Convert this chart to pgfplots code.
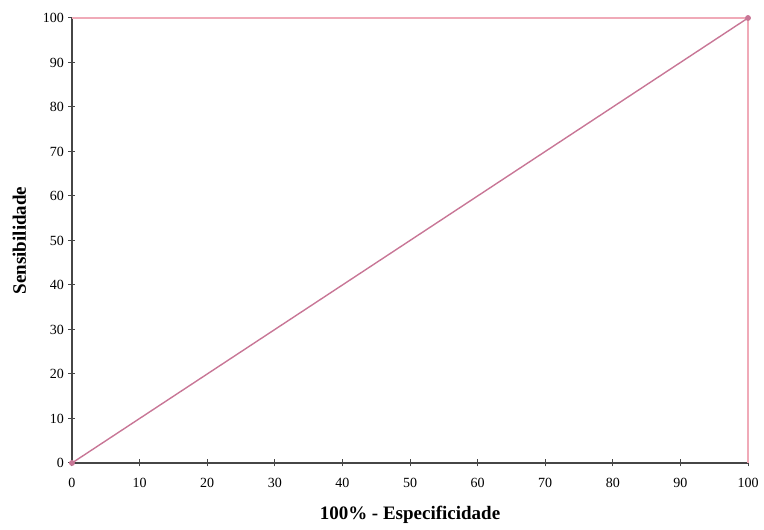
\documentclass[border=0pt]{standalone}
\usepackage{pgfplots}
\pgfplotsset{compat=1.18}
\usepackage{fontspec}
\setmainfont{Liberation Serif}
\definecolor{diag}{RGB}{200,118,150}
\definecolor{frame}{RGB}{240,170,184}
\definecolor{axc}{RGB}{70,70,70}
\begin{document}
\begin{tikzpicture}
\path[use as bounding box] (-72pt,-67pt) rectangle (692pt,463pt);
\begin{axis}[
  at={(0,0)}, anchor=south west,
  scale only axis,
  width=676pt, height=445pt,
  xmin=0, xmax=100, ymin=0, ymax=100,
  axis x line*=bottom, axis y line*=left,
  axis line style={axc, line width=1.3pt},
  every tick/.style={axc, line width=1pt},
  tick align=center,
  major tick length=7pt,
  xtick={0,10,...,100}, ytick={0,10,...,100},
  tick label style={font=\fontsize{14}{16}\selectfont},
  /pgf/number format/assume math mode=true,
  xticklabel style={yshift=-8pt},
  yticklabel style={xshift=-1pt},
  xlabel={\textbf{100\% - Especificidade}},
  ylabel={\textbf{Sensibilidade}},
  label style={font=\fontsize{19}{21}\selectfont},
  xlabel style={yshift=-12pt},
  ylabel style={yshift=10pt},
  clip=false,
]
\addplot[frame, line width=1.2pt] coordinates {(0,100) (100,100) (100,0)};
\addplot[diag, line width=1.4pt, mark=*, mark size=2.2pt, mark options={fill=diag, draw=diag}] coordinates {(0,0) (100,100)};
\end{axis}
\end{tikzpicture}
\end{document}
